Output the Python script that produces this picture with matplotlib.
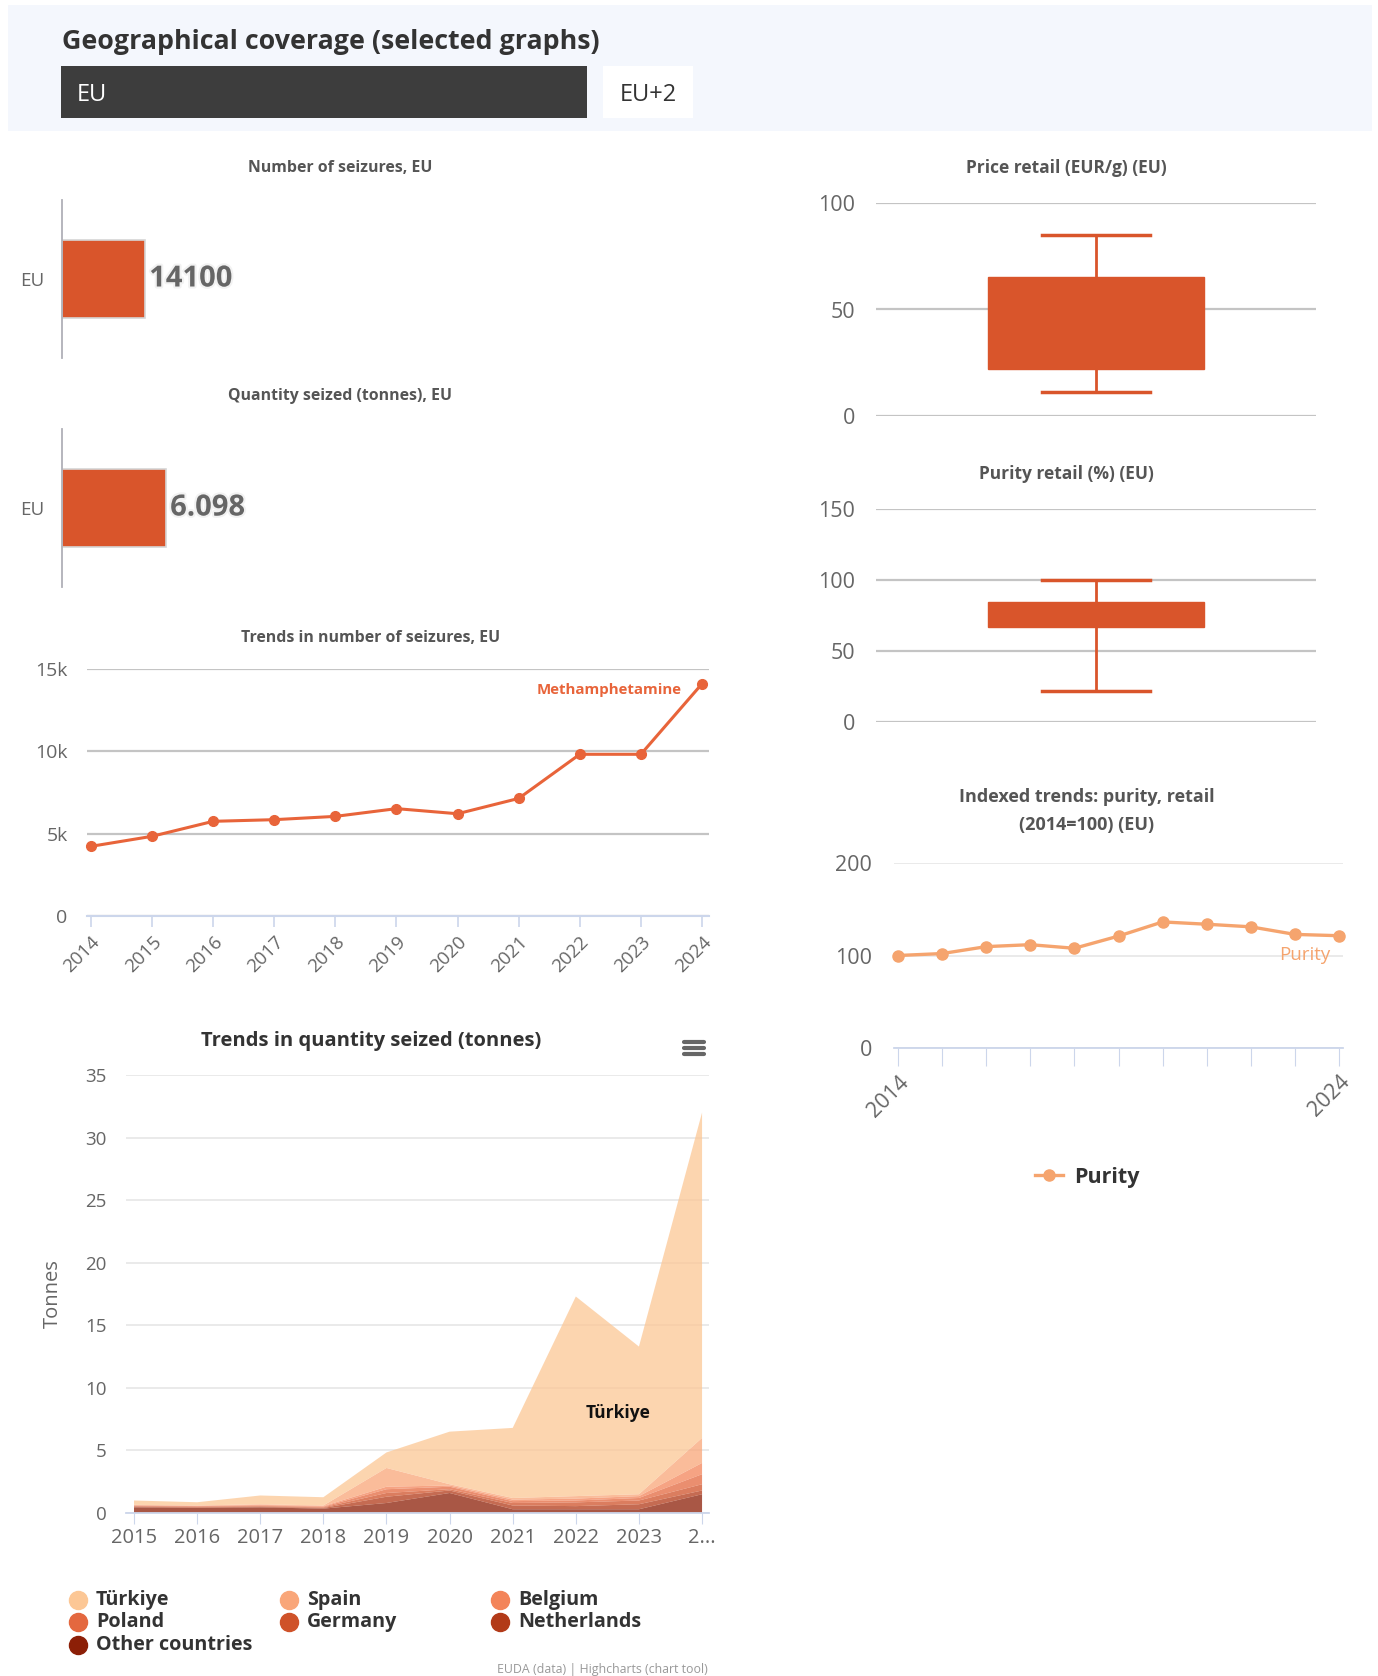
import matplotlib
matplotlib.use("Agg")
import matplotlib.pyplot as plt
import matplotlib.patheffects as pe
from matplotlib.patches import Rectangle
from matplotlib.lines import Line2D

plt.rcParams['font.family'] = ['Open Sans', 'DejaVu Sans']

# ---- data ----
region = ["EU"]
seizures_eu = [14100]
quantity_eu = [6.098]

trend_years = [2014, 2015, 2016, 2017, 2018, 2019, 2020, 2021, 2022, 2023, 2024]
trend_seizures = [4230, 4840, 5750, 5850, 6050, 6520, 6210, 7140, 9820, 9820, 14100]

qty_years = [2015, 2016, 2017, 2018, 2019, 2020, 2021, 2022, 2023, 2024]
qty_labels = ["2015", "2016", "2017", "2018", "2019", "2020", "2021", "2022", "2023", "2..."]
countries = ["Türkiye", "Spain", "Belgium", "Poland", "Germany", "Netherlands", "Other countries"]
turkiye = [0.35, 0.26, 0.70, 0.66, 1.24, 4.20, 5.60, 15.95, 11.80, 26.00]
spain = [0.03, 0.03, 0.05, 0.05, 1.50, 0.10, 0.13, 0.20, 0.15, 2.00]
belgium = [0.02, 0.02, 0.05, 0.05, 0.20, 0.10, 0.12, 0.15, 0.15, 0.90]
poland = [0.05, 0.05, 0.05, 0.05, 0.30, 0.20, 0.15, 0.15, 0.20, 0.80]
germany = [0.05, 0.05, 0.05, 0.05, 0.30, 0.10, 0.20, 0.30, 0.30, 0.50]
netherlands = [0.05, 0.05, 0.05, 0.05, 0.50, 0.20, 0.30, 0.25, 0.40, 0.30]
other = [0.45, 0.40, 0.45, 0.35, 0.80, 1.60, 0.30, 0.30, 0.30, 1.50]
country_colors = ["#fcc795", "#f9a679", "#f38459", "#e4683f", "#cf5229", "#b23a18", "#8c1f07"]

price_retail = {"whislo": 11.5, "q1": 22.2, "med": 40.0, "q3": 65.3, "whishi": 85.0}
purity_retail = {"whislo": 21.8, "q1": 66.7, "med": 75.0, "q3": 84.2, "whishi": 100.3}

purity_index = [100, 102.1, 109.6, 111.7, 107.8, 121.0, 136.3, 133.8, 131.0, 122.8, 121.4]

# ---- figure / pixel helpers ----
W, H = 1378, 1676
fig = plt.figure(figsize=(W / 100, H / 100), dpi=100)
fig.patch.set_facecolor("white")

ACCENT = "#d9552b"
LINE = "#e8643a"
PURITY = "#f5a46e"
AXIS = "#ccd6eb"
TICK = "#666666"


def fx(x):
    return x / W


def fy(y):
    return 1 - y / H


def add_ax(left, top, right, bottom):
    return fig.add_axes([fx(left), fy(bottom), (right - left) / W, (bottom - top) / H])


def strip(ax):
    for s in ax.spines.values():
        s.set_visible(False)
    ax.set_facecolor("none")


# ---- header ----
fig.patches.append(Rectangle((fx(8), fy(131)), 1364 / W, 126 / H, transform=fig.transFigure,
                             facecolor="#f4f7fd", edgecolor="none", zorder=0))
fig.text(fx(62), fy(42), "Geographical coverage (selected graphs)", fontsize=19.3,
         fontweight="bold", color="#333333", va="center")
fig.patches.append(Rectangle((fx(61), fy(118)), 526 / W, 52 / H, transform=fig.transFigure,
                             facecolor="#3d3d3d", edgecolor="none", zorder=1))
fig.text(fx(77), fy(95), "EU", fontsize=17, color="white", va="center")
fig.patches.append(Rectangle((fx(603), fy(118)), 90 / W, 52 / H, transform=fig.transFigure,
                             facecolor="white", edgecolor="none", zorder=1))
fig.text(fx(648), fy(95), "EU+2", fontsize=17, color="#333333", va="center", ha="center")


# ---- single bar charts ----
def bar_chart(box, value, xmax, title, title_y, label):
    ax = add_ax(*box)
    strip(ax)
    ax.barh(region, value, height=0.98, color=ACCENT, edgecolor="#d6d6d6", linewidth=1.2)
    ax.set_xlim(0, xmax)
    ax.set_ylim(-1, 1)
    ax.spines["left"].set_visible(True)
    ax.spines["left"].set_color("#b0b0b8")
    ax.spines["left"].set_linewidth(1.3)
    ax.set_xticks([])
    ax.tick_params(axis="y", length=0, pad=13, labelsize=13.5, labelcolor=TICK)
    ax.annotate(label, (value[0], 0), xytext=(3, 0), textcoords="offset points",
                fontsize=21, fontweight="bold", color="#666666", va="center", ha="left",
                path_effects=[pe.withStroke(linewidth=3, foreground="#f2f2f2")])
    fig.text(fx(340), fy(title_y), title, fontsize=11.4, fontweight="bold",
             color="#555555", ha="center", va="center")
    return ax


bar_chart((62, 200, 700, 358), seizures_eu, 14100 * 638 / 83, "Number of seizures, EU", 168,
          f"{seizures_eu[0]}")
bar_chart((62, 429, 700, 587), quantity_eu, 6.098 * 638 / 104, "Quantity seized (tonnes), EU", 396,
          f"{quantity_eu[0]:.3f}")

# ---- trend in number of seizures ----
ax3 = add_ax(87, 669, 709, 916)
strip(ax3)
ax3.plot(trend_years, trend_seizures, color=LINE, lw=2.2, marker="o", ms=7, clip_on=False, zorder=3)
ax3.set_xlim(2013.935, 2024.115)
ax3.set_ylim(0, 15000)
ax3.set_yticks([0, 5000, 10000, 15000])
ax3.set_yticklabels(["0", "5k", "10k", "15k"])
ax3.grid(axis="y", color="#c4c4c4", lw=1.6)
ax3.set_axisbelow(True)
ax3.spines["bottom"].set_visible(True)
ax3.spines["bottom"].set_color(AXIS)
ax3.spines["bottom"].set_linewidth(1.5)
ax3.set_xticks(trend_years)
ax3.set_xticklabels([str(y) for y in trend_years], rotation=45, ha="right",
                    rotation_mode="anchor")
ax3.tick_params(axis="x", length=8, color=AXIS, width=1.2, labelsize=13.5, labelcolor=TICK, pad=4)
ax3.tick_params(axis="y", length=0, labelsize=14, labelcolor=TICK, pad=14)
ax3.text(2024 - 0.33, 13700, "Methamphetamine", color=LINE, fontsize=10.8, fontweight="bold",
         ha="right", va="center")
fig.text(fx(371), fy(638), "Trends in number of seizures, EU", fontsize=11.4,
         fontweight="bold", color="#555555", ha="center", va="center")

# ---- trends in quantity seized (stacked areas) ----
ax4 = add_ax(126, 1075, 709, 1513)
strip(ax4)
stack = [other, netherlands, germany, poland, belgium, spain, turkiye]
ax4.stackplot(qty_years, *stack, colors=country_colors[::-1], alpha=0.75, lw=0)
ax4.set_xlim(2014.873, 2024.11)
ax4.set_ylim(0, 35)
ax4.set_yticks(range(0, 36, 5))
ax4.grid(axis="y", color="#e6e6e6", lw=1.2)
ax4.set_axisbelow(True)
ax4.spines["bottom"].set_visible(True)
ax4.spines["bottom"].set_color(AXIS)
ax4.spines["bottom"].set_linewidth(1.3)
ax4.set_xticks(qty_years)
ax4.set_xticklabels(qty_labels)
ax4.tick_params(axis="x", length=8, color=AXIS, labelsize=14.5, labelcolor=TICK, pad=3)
ax4.tick_params(axis="y", length=0, labelsize=13.5, labelcolor=TICK, pad=14)
ax4.set_ylabel("Tonnes", fontsize=14.5, color=TICK, labelpad=16)
ax4.text(2022.67, 8.0, "Türkiye", fontsize=12.5, fontweight="bold", color="#111111",
         ha="center", va="center")
fig.text(fx(371), fy(1041), "Trends in quantity seized (tonnes)", fontsize=14.5,
         fontweight="bold", color="#333333", ha="center", va="center")

# export menu icon
for dy in (-6, 0, 6):
    fig.add_artist(Line2D([fx(684), fx(704)], [fy(1048 + dy)] * 2, color="#666666", lw=3,
                          solid_capstyle="round"))

# legend laid out in three rows, filled row by row
legend_cols = [78, 289, 500]
legend_rows = [1600, 1622, 1645]
for i, (name, col) in enumerate(zip(countries, country_colors)):
    cx = legend_cols[i % 3]
    cy = legend_rows[i // 3]
    fig.add_artist(Line2D([fx(cx)], [fy(cy)], marker="o", ms=13, color=col, lw=0))
    fig.text(fx(cx + 18), fy(cy), name, fontsize=14.2, fontweight="bold", color="#333333",
             va="center", ha="left")

fig.text(fx(708), fy(1669), "EUDA (data) | Highcharts (chart tool)", fontsize=8.9,
         color="#999999", ha="right", va="center")


# ---- box plots ----
def box_chart(box, stats, ylim, yticks, title, title_y):
    ax = add_ax(*box)
    strip(ax)
    ax.bxp([stats], positions=[0.5], widths=0.49, patch_artist=True, showfliers=False,
           capwidths=0.245,
           boxprops=dict(facecolor=ACCENT, edgecolor=ACCENT, linewidth=1),
           whiskerprops=dict(color=ACCENT, linewidth=2),
           capprops=dict(color=ACCENT, linewidth=2.5),
           medianprops=dict(color=ACCENT, linewidth=1))
    ax.set_xlim(0, 1)
    ax.set_ylim(*ylim)
    ax.set_yticks(yticks)
    ax.set_xticks([])
    ax.grid(axis="y", color="#c4c4c4", lw=1.6)
    ax.set_axisbelow(True)
    ax.tick_params(axis="y", length=0, labelsize=15.5, labelcolor=TICK, pad=15)
    fig.text(fx(1066), fy(title_y), title, fontsize=12.5, fontweight="bold", color="#555555",
             ha="center", va="center")
    return ax


box_chart((876, 203, 1316, 416), price_retail, (0, 100), [0, 50, 100],
          "Price retail (EUR/g) (EU)", 168)
box_chart((876, 509, 1316, 722), purity_retail, (0, 150), [0, 50, 100, 150],
          "Purity retail (%) (EU)", 474)

# ---- indexed purity trend ----
ax6 = add_ax(894, 863, 1343, 1048)
strip(ax6)
line, = ax6.plot(trend_years, purity_index, color=PURITY, lw=2.4, marker="o", ms=8,
                 clip_on=False, zorder=3, label="Purity")
ax6.set_xlim(2013.909, 2024.09)
ax6.set_ylim(0, 200)
ax6.set_yticks([0, 100, 200])
ax6.grid(axis="y", color="#e6e6e6", lw=1.2)
ax6.set_axisbelow(True)
ax6.spines["bottom"].set_visible(True)
ax6.spines["bottom"].set_color(AXIS)
ax6.spines["bottom"].set_linewidth(1.3)
ax6.set_xticks(trend_years)
ax6.set_xticklabels(["2014"] + [""] * 9 + ["2024"], rotation=45, ha="right",
                    rotation_mode="anchor")
ax6.tick_params(axis="x", length=13, color=AXIS, labelsize=15.5, labelcolor=TICK, pad=4)
ax6.tick_params(axis="y", length=0, labelsize=15.5, labelcolor=TICK, pad=16)
ax6.text(2023.8, 101, "Purity", color=PURITY, fontsize=13.5, ha="right", va="center")
fig.text(fx(1087), fy(797), "Indexed trends: purity, retail", fontsize=13,
         fontweight="bold", color="#555555", ha="center", va="center")
fig.text(fx(1087), fy(825), "(2014=100) (EU)", fontsize=13, fontweight="bold",
         color="#555555", ha="center", va="center")
fig.legend(handles=[line], loc="center", bbox_to_anchor=(fx(1087), fy(1177)), frameon=False,
           handlelength=1.3, handletextpad=0.5, prop=dict(size=15.5, weight="bold"),
           labelcolor="#333333")

fig.savefig("out.png", dpi=100)
